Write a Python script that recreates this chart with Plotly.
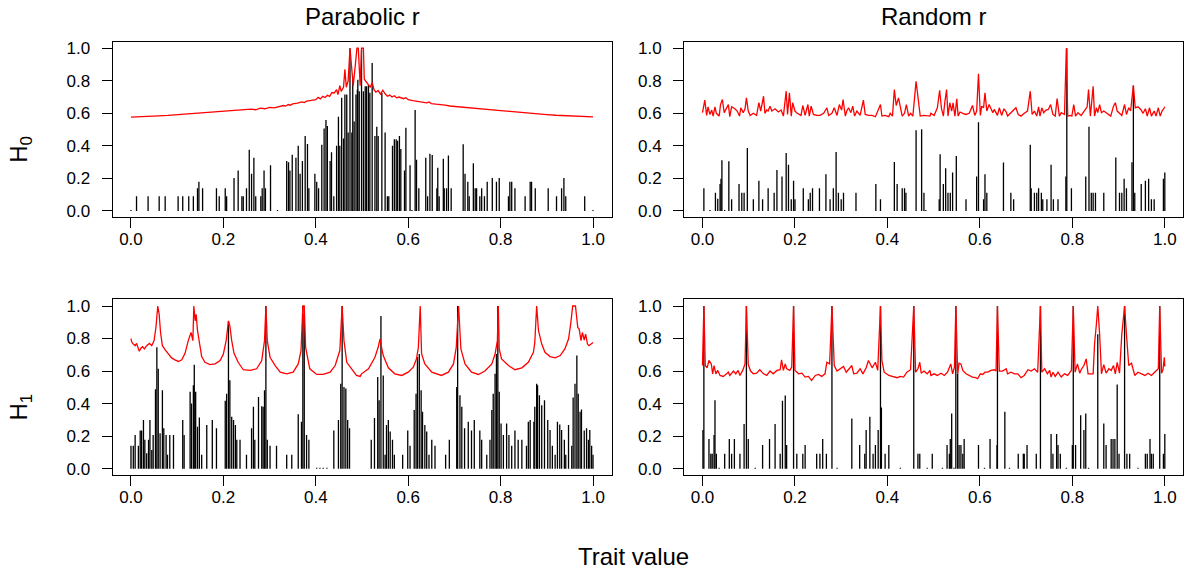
import plotly.graph_objects as go

# ---------------- data ----------------
# H0, parabolic r : red curve (x, value)
h0p_line = [(0.0,0.577),(0.02,0.578),(0.04,0.581),(0.06,0.584),(0.08,0.587),(0.10,0.591),(0.12,0.595),
            (0.14,0.599),(0.16,0.603),(0.18,0.606),(0.20,0.610),(0.22,0.615),(0.24,0.620),(0.26,0.626),
            (0.27,0.622),(0.28,0.632),(0.29,0.628),(0.30,0.636),(0.31,0.634),(0.32,0.643),(0.33,0.648),
            (0.335,0.644),(0.34,0.654),(0.345,0.650),(0.35,0.658),(0.36,0.662),(0.37,0.670),(0.375,0.666),
            (0.38,0.675),(0.39,0.679),(0.40,0.684),(0.405,0.698),(0.41,0.689),(0.415,0.704),(0.42,0.697),
            (0.425,0.711),(0.43,0.704),(0.435,0.728),(0.44,0.725),(0.445,0.745),(0.448,0.715),(0.452,0.770),
            (0.455,0.735),(0.46,0.760),(0.463,0.870),(0.466,0.760),(0.47,0.800),(0.474,1.0),(0.478,0.860),
            (0.481,0.770),(0.485,0.880),(0.489,1.0),(0.492,1.0),(0.494,0.850),(0.496,0.770),(0.499,1.0),
            (0.503,1.0),(0.505,0.810),(0.51,0.790),(0.515,0.770),(0.518,0.760),(0.522,0.790),(0.526,0.745),
            (0.53,0.730),(0.535,0.740),(0.54,0.718),(0.545,0.742),(0.55,0.720),(0.555,0.705),(0.56,0.712),
            (0.565,0.700),(0.57,0.708),(0.575,0.695),(0.58,0.700),(0.59,0.690),(0.595,0.696),(0.60,0.684),
            (0.61,0.678),(0.62,0.672),(0.63,0.668),(0.64,0.664),(0.645,0.670),(0.65,0.660),(0.66,0.656),
            (0.67,0.654),(0.68,0.650),(0.69,0.645),(0.70,0.642),(0.72,0.636),(0.74,0.632),(0.76,0.627),
            (0.78,0.622),(0.80,0.617),(0.82,0.612),(0.84,0.606),(0.86,0.600),(0.88,0.596),(0.90,0.592),
            (0.92,0.588),(0.94,0.585),(0.96,0.582),(0.98,0.580),(1.0,0.578)]
# H0, parabolic r : black spikes (x, height)
h0p_spikes = [(0.0,0.005),(0.012,0.09),(0.037,0.09),(0.061,0.09),(0.074,0.09),(0.102,0.09),(0.112,0.09),
              (0.125,0.09),(0.135,0.09),(0.144,0.14),(0.147,0.18),(0.155,0.14),(0.185,0.14),(0.191,0.09),
              (0.204,0.14),(0.207,0.09),(0.223,0.203),(0.232,0.248),(0.240,0.09),(0.243,0.09),(0.250,0.14),
              (0.256,0.376),(0.261,0.228),(0.266,0.327),(0.270,0.09),(0.281,0.09),(0.284,0.14),(0.288,0.248),
              (0.291,0.14),(0.302,0.28),(0.317,0.005),(0.337,0.307),(0.341,0.299),(0.344,0.248),(0.349,0.346),
              (0.357,0.327),(0.362,0.40),(0.366,0.228),(0.371,0.307),(0.377,0.461),(0.382,0.411),(0.385,0.14),
              (0.398,0.228),(0.402,0.18),(0.406,0.14),(0.413,0.407),(0.418,0.506),(0.422,0.559),(0.425,0.522),
              (0.431,0.307),(0.434,0.36),(0.439,0.09),(0.445,0.40),(0.449,0.579),(0.452,0.40),(0.456,0.695),
              (0.460,0.445),(0.463,0.715),(0.467,0.715),(0.470,0.482),(0.474,1.0),(0.478,0.482),(0.480,0.827),
              (0.483,0.549),(0.487,0.715),(0.490,0.746),(0.491,0.807),(0.494,0.736),(0.499,0.99),(0.503,0.736),
              (0.507,0.766),(0.510,0.766),(0.514,0.776),(0.517,0.726),(0.522,0.909),(0.528,0.461),(0.532,0.518),
              (0.535,0.461),(0.543,0.726),(0.550,0.482),(0.555,0.09),(0.558,0.09),(0.566,0.40),(0.570,0.441),
              (0.574,0.441),(0.577,0.431),(0.581,0.461),(0.584,0.380),(0.592,0.248),(0.595,0.512),(0.604,0.280),
              (0.608,0.005),(0.615,0.62),(0.618,0.315),(0.623,0.14),(0.638,0.327),(0.642,0.09),(0.647,0.352),
              (0.652,0.343),(0.662,0.14),(0.664,0.266),(0.667,0.09),(0.676,0.32),(0.678,0.14),(0.683,0.14),
              (0.687,0.34),(0.693,0.14),(0.719,0.41),(0.723,0.228),(0.729,0.18),(0.732,0.09),(0.741,0.293),
              (0.745,0.14),(0.748,0.14),(0.755,0.09),(0.759,0.14),(0.765,0.09),(0.771,0.18),(0.782,0.203),
              (0.791,0.18),(0.797,0.203),(0.817,0.09),(0.820,0.18),(0.824,0.18),(0.831,0.14),(0.853,0.09),
              (0.864,0.18),(0.867,0.18),(0.875,0.14),(0.903,0.14),(0.921,0.09),(0.932,0.14),(0.937,0.203),
              (0.941,0.09),(0.982,0.09),(1.0,0.005)]

# H0, random r : red curve
h0r_line = [(0.0,0.604),(0.005,0.681),(0.009,0.587),(0.012,0.640),(0.016,0.593),(0.020,0.620),(0.023,0.583),
            (0.027,0.640),(0.030,0.600),(0.036,0.583),(0.039,0.654),(0.043,0.685),(0.047,0.604),(0.052,0.634),
            (0.056,0.654),(0.059,0.579),(0.063,0.640),(0.070,0.628),(0.075,0.614),(0.080,0.583),(0.083,0.634),
            (0.088,0.604),(0.092,0.628),(0.095,0.695),(0.099,0.614),(0.103,0.587),(0.110,0.600),(0.117,0.587),
            (0.122,0.665),(0.126,0.614),(0.132,0.705),(0.135,0.600),(0.139,0.620),(0.142,0.614),(0.146,0.644),
            (0.150,0.614),(0.157,0.628),(0.164,0.608),(0.170,0.620),(0.175,0.583),(0.181,0.736),(0.184,0.593),
            (0.188,0.726),(0.192,0.583),(0.195,0.665),(0.200,0.614),(0.205,0.600),(0.213,0.587),(0.217,0.648),
            (0.222,0.587),(0.226,0.640),(0.228,0.654),(0.231,0.583),(0.235,0.644),(0.240,0.593),(0.247,0.587),
            (0.254,0.587),(0.262,0.600),(0.269,0.634),(0.273,0.587),(0.280,0.600),(0.285,0.634),(0.291,0.587),
            (0.296,0.654),(0.301,0.620),(0.304,0.685),(0.309,0.583),(0.312,0.614),(0.316,0.634),(0.321,0.604),
            (0.325,0.644),(0.329,0.583),(0.334,0.614),(0.341,0.587),(0.348,0.681),(0.352,0.593),(0.359,0.587),
            (0.367,0.587),(0.374,0.579),(0.381,0.624),(0.385,0.654),(0.388,0.583),(0.395,0.587),(0.403,0.579),
            (0.406,0.600),(0.411,0.583),(0.415,0.746),(0.419,0.648),(0.424,0.695),(0.432,0.583),(0.437,0.600),
            (0.441,0.654),(0.446,0.583),(0.450,0.600),(0.455,0.583),(0.462,0.797),(0.466,0.715),(0.471,0.583),
            (0.479,0.587),(0.486,0.587),(0.492,0.583),(0.494,0.600),(0.501,0.587),(0.508,0.634),(0.513,0.742),
            (0.517,0.628),(0.521,0.583),(0.524,0.665),(0.528,0.746),(0.531,0.583),(0.535,0.665),(0.539,0.614),
            (0.542,0.665),(0.546,0.583),(0.550,0.689),(0.553,0.583),(0.557,0.608),(0.563,0.600),(0.570,0.593),
            (0.577,0.600),(0.584,0.648),(0.589,0.587),(0.593,0.614),(0.597,0.843),(0.601,0.587),(0.604,0.644),
            (0.608,0.634),(0.611,0.726),(0.615,0.614),(0.620,0.654),(0.624,0.624),(0.628,0.604),(0.631,0.624),
            (0.635,0.600),(0.638,0.587),(0.642,0.634),(0.647,0.587),(0.652,0.628),(0.657,0.608),(0.660,0.583),
            (0.666,0.600),(0.673,0.614),(0.678,0.634),(0.683,0.593),(0.689,0.583),(0.696,0.600),(0.703,0.614),
            (0.709,0.736),(0.713,0.593),(0.718,0.614),(0.723,0.583),(0.727,0.640),(0.730,0.583),(0.734,0.634),
            (0.738,0.604),(0.743,0.620),(0.748,0.624),(0.753,0.654),(0.758,0.593),(0.763,0.583),(0.767,0.691),
            (0.772,0.583),(0.776,0.604),(0.783,0.593),(0.787,1.0),(0.790,0.583),(0.796,0.587),(0.799,0.583),
            (0.803,0.654),(0.807,0.583),(0.812,0.604),(0.819,0.587),(0.826,0.614),(0.832,0.640),(0.835,0.746),
            (0.839,0.583),(0.845,0.766),(0.848,0.583),(0.852,0.634),(0.855,0.604),(0.859,0.654),(0.863,0.604),
            (0.868,0.614),(0.876,0.600),(0.883,0.583),(0.889,0.644),(0.893,0.665),(0.897,0.614),(0.902,0.600),
            (0.907,0.587),(0.913,0.654),(0.917,0.593),(0.922,0.634),(0.926,0.614),(0.932,0.772),(0.936,0.634),
            (0.942,0.640),(0.948,0.624),(0.953,0.600),(0.958,0.628),(0.962,0.583),(0.967,0.634),(0.971,0.583),
            (0.977,0.614),(0.981,0.583),(0.986,0.634),(0.990,0.583),(0.994,0.614),(0.999,0.634),(1.0,0.640)]
# H0, random r : black spikes
h0r_spikes = [(0.003,0.14),(0.016,0.005),(0.028,0.112),(0.033,0.075),(0.038,0.165),(0.040,0.197),(0.042,0.311),
              (0.048,0.005),(0.057,0.305),(0.063,0.071),(0.079,0.165),(0.085,0.112),(0.090,0.112),(0.097,0.386),
              (0.110,0.071),(0.122,0.185),(0.130,0.071),(0.142,0.14),(0.155,0.112),(0.161,0.252),(0.172,0.211),
              (0.181,0.356),(0.186,0.283),(0.192,0.071),(0.197,0.185),(0.200,0.071),(0.218,0.14),(0.229,0.071),
              (0.233,0.112),(0.238,0.14),(0.253,0.14),(0.267,0.226),(0.276,0.071),(0.283,0.14),(0.289,0.362),
              (0.294,0.112),(0.300,0.071),(0.305,0.112),(0.332,0.112),(0.375,0.165),(0.385,0.071),(0.415,0.30),
              (0.421,0.165),(0.432,0.14),(0.437,0.14),(0.440,0.112),(0.462,0.496),(0.474,0.502),(0.479,0.112),
              (0.483,0.005),(0.512,0.071),(0.514,0.348),(0.521,0.165),(0.526,0.262),(0.531,0.112),(0.536,0.112),
              (0.541,0.236),(0.549,0.337),(0.570,0.071),(0.593,0.211),(0.597,0.545),(0.608,0.071),(0.611,0.226),
              (0.615,0.112),(0.651,0.297),(0.667,0.112),(0.673,0.071),(0.709,0.407),(0.711,0.14),(0.718,0.112),
              (0.723,0.112),(0.727,0.14),(0.733,0.112),(0.736,0.071),(0.745,0.071),(0.754,0.283),(0.759,0.071),
              (0.769,0.071),(0.786,0.211),(0.788,1.0),(0.798,0.14),(0.829,0.211),(0.836,0.518),(0.841,0.112),
              (0.845,0.112),(0.850,0.112),(0.868,0.112),(0.894,0.329),(0.902,0.112),(0.907,0.112),(0.912,0.197),
              (0.917,0.14),(0.929,0.299),(0.932,0.77),(0.935,0.112),(0.949,0.165),(0.958,0.185),(0.965,0.197),
              (0.971,0.071),(0.977,0.071),(0.997,0.197),(1.0,0.236)]

# H1, parabolic r : red curve
h1p_line = [(0.0,0.80),(0.0014,0.780),(0.005,0.766),(0.009,0.756),(0.012,0.770),(0.018,0.722),(0.022,0.742),
            (0.025,0.750),(0.029,0.736),(0.034,0.756),(0.040,0.770),(0.045,0.756),(0.050,0.787),(0.054,0.868),
            (0.058,1.0),(0.061,0.949),(0.064,0.837),(0.068,0.756),(0.074,0.730),(0.081,0.705),(0.088,0.681),
            (0.095,0.669),(0.103,0.659),(0.110,0.669),(0.117,0.709),(0.124,0.787),(0.130,0.837),(0.134,0.787),
            (0.136,1.0),(0.139,0.909),(0.141,0.949),(0.144,0.848),(0.148,0.766),(0.153,0.689),(0.160,0.654),
            (0.171,0.640),(0.182,0.644),(0.193,0.665),(0.200,0.705),(0.206,0.787),(0.211,0.909),(0.214,0.878),
            (0.218,0.787),(0.223,0.709),(0.232,0.654),(0.243,0.608),(0.258,0.604),(0.272,0.614),(0.283,0.665),
            (0.289,0.787),(0.292,1.0),(0.295,0.787),(0.301,0.685),(0.312,0.634),(0.323,0.593),(0.337,0.583),
            (0.351,0.593),(0.362,0.644),(0.368,0.726),(0.372,1.0),(0.375,1.0),(0.378,0.746),(0.387,0.614),
            (0.402,0.579),(0.416,0.579),(0.431,0.593),(0.442,0.634),(0.452,0.726),(0.457,1.0),(0.461,0.787),
            (0.467,0.654),(0.478,0.614),(0.488,0.573),(0.496,0.567),(0.499,0.583),(0.514,0.614),(0.528,0.685),
            (0.535,0.746),(0.539,0.797),(0.543,0.736),(0.546,0.695),(0.557,0.620),(0.571,0.583),(0.586,0.573),
            (0.600,0.593),(0.611,0.624),(0.618,0.675),(0.622,0.746),(0.626,1.0),(0.629,0.705),(0.636,0.644),
            (0.651,0.593),(0.672,0.573),(0.687,0.593),(0.698,0.644),(0.704,0.746),(0.709,1.0),(0.714,0.736),
            (0.723,0.644),(0.737,0.593),(0.752,0.579),(0.766,0.600),(0.781,0.644),(0.788,0.705),(0.793,0.787),
            (0.795,1.0),(0.797,0.736),(0.802,0.675),(0.817,0.634),(0.831,0.608),(0.846,0.620),(0.860,0.654),
            (0.871,0.715),(0.874,0.776),(0.878,1.0),(0.882,0.848),(0.889,0.766),(0.896,0.715),(0.907,0.689),
            (0.918,0.681),(0.929,0.695),(0.939,0.736),(0.947,0.797),(0.952,0.898),(0.956,1.0),(0.962,1.0),
            (0.967,0.868),(0.970,0.858),(0.974,0.787),(0.977,0.837),(0.981,0.791),(0.984,0.827),(0.988,0.766),
            (0.991,0.756),(0.996,0.770),(1.0,0.776)]
# H1, parabolic r : black spikes
h1p_spikes = [(0.0,0.14),(0.005,0.14),(0.009,0.207),(0.016,0.14),(0.020,0.234),(0.023,0.234),(0.027,0.299),
              (0.030,0.177),(0.034,0.095),(0.038,0.177),(0.041,0.299),(0.045,0.115),(0.048,0.207),(0.053,0.488),
              (0.056,0.746),(0.059,0.614),(0.063,0.217),(0.068,0.482),(0.071,0.248),(0.076,0.207),(0.079,0.085),
              (0.084,0.207),(0.092,0.207),(0.112,0.299),(0.115,0.207),(0.128,0.472),(0.131,0.40),(0.135,0.512),
              (0.137,0.638),(0.140,0.472),(0.144,0.258),(0.148,0.315),(0.153,0.085),(0.164,0.268),(0.176,0.299),
              (0.185,0.248),(0.204,0.417),(0.207,0.461),(0.211,0.904),(0.214,0.543),(0.218,0.319),(0.222,0.299),
              (0.226,0.268),(0.229,0.177),(0.236,0.177),(0.250,0.085),(0.261,0.248),(0.265,0.38),(0.268,0.177),
              (0.276,0.441),(0.283,0.384),(0.286,0.38),(0.289,0.482),(0.292,1.0),(0.295,0.177),(0.301,0.14),
              (0.315,0.14),(0.337,0.085),(0.348,0.085),(0.362,0.335),(0.369,0.289),(0.372,1.0),(0.375,0.95),
              (0.380,0.207),(0.385,0.177),(0.402,0.005),(0.409,0.005),(0.416,0.005),(0.424,0.005),(0.439,0.234),
              (0.449,0.299),(0.454,0.522),(0.457,1.0),(0.461,0.502),(0.465,0.492),(0.469,0.299),(0.473,0.248),
              (0.520,0.177),(0.527,0.311),(0.534,0.563),(0.537,0.421),(0.541,0.939),(0.546,0.573),(0.550,0.085),
              (0.553,0.268),(0.557,0.299),(0.561,0.228),(0.566,0.177),(0.570,0.085),(0.588,0.085),(0.599,0.234),
              (0.604,0.14),(0.613,0.36),(0.617,0.461),(0.620,0.685),(0.624,0.705),(0.628,0.482),(0.631,0.350),
              (0.636,0.268),(0.640,0.228),(0.645,0.085),(0.651,0.177),(0.658,0.14),(0.681,0.085),(0.689,0.177),
              (0.705,0.502),(0.707,1.0),(0.712,0.451),(0.716,0.38),(0.722,0.248),(0.730,0.289),(0.737,0.234),
              (0.743,0.299),(0.755,0.234),(0.759,0.177),(0.770,0.085),(0.777,0.177),(0.781,0.36),(0.784,0.461),
              (0.788,0.583),(0.791,0.705),(0.794,1.0),(0.797,0.472),(0.801,0.278),(0.806,0.207),(0.813,0.278),
              (0.818,0.207),(0.824,0.14),(0.831,0.234),(0.838,0.177),(0.846,0.177),(0.856,0.14),(0.860,0.289),
              (0.864,0.299),(0.872,0.289),(0.874,0.38),(0.878,0.522),(0.880,0.512),(0.884,0.451),(0.889,0.390),
              (0.895,0.421),(0.902,0.299),(0.907,0.238),(0.912,0.14),(0.918,0.085),(0.923,0.289),(0.928,0.272),
              (0.932,0.238),(0.938,0.177),(0.941,0.085),(0.947,0.268),(0.954,0.14),(0.957,0.437),(0.961,0.522),
              (0.965,0.695),(0.968,0.461),(0.972,0.350),(0.975,0.364),(0.981,0.234),(0.986,0.248),(0.990,0.177),
              (0.993,0.238),(0.997,0.14),(1.0,0.085)]

# H1, random r : red curve
h1r_line = [(0.0,0.634),(0.003,1.0),(0.006,0.634),(0.010,0.620),(0.014,0.665),(0.019,0.644),(0.022,0.583),
            (0.025,0.634),(0.029,0.583),(0.033,0.604),(0.038,0.573),(0.045,0.567),(0.052,0.583),(0.056,0.593),
            (0.059,0.573),(0.067,0.600),(0.072,0.583),(0.077,0.604),(0.081,0.573),(0.087,0.604),(0.092,0.644),
            (0.095,1.0),(0.099,0.640),(0.104,0.600),(0.110,0.583),(0.117,0.587),(0.124,0.608),(0.132,0.583),
            (0.139,0.573),(0.146,0.600),(0.153,0.583),(0.161,0.604),(0.168,0.608),(0.171,0.669),(0.175,0.604),
            (0.179,0.644),(0.182,0.614),(0.189,0.604),(0.193,0.624),(0.197,1.0),(0.200,0.604),(0.208,0.583),
            (0.215,0.587),(0.222,0.563),(0.229,0.567),(0.236,0.543),(0.244,0.573),(0.251,0.579),(0.258,0.567),
            (0.265,0.583),(0.269,0.654),(0.275,0.644),(0.280,1.0),(0.285,0.634),(0.291,0.600),(0.298,0.614),
            (0.305,0.628),(0.311,0.593),(0.318,0.614),(0.323,0.634),(0.327,0.583),(0.334,0.587),(0.341,0.614),
            (0.347,0.583),(0.354,0.620),(0.359,0.665),(0.367,0.620),(0.374,0.654),(0.379,0.604),(0.385,1.0),
            (0.388,0.665),(0.393,0.593),(0.403,0.573),(0.414,0.567),(0.421,0.559),(0.428,0.567),(0.435,0.563),
            (0.442,0.593),(0.450,0.608),(0.457,1.0),(0.461,0.593),(0.466,0.614),(0.470,0.654),(0.473,0.587),
            (0.479,0.600),(0.486,0.583),(0.492,0.604),(0.494,0.573),(0.501,0.583),(0.508,0.573),(0.516,0.587),
            (0.523,0.573),(0.530,0.593),(0.537,0.644),(0.541,0.583),(0.545,0.624),(0.548,1.0),(0.552,0.583),
            (0.555,0.648),(0.559,0.644),(0.563,0.604),(0.570,0.583),(0.577,0.573),(0.584,0.563),(0.591,0.559),
            (0.595,0.553),(0.601,0.583),(0.606,0.579),(0.611,0.593),(0.617,0.593),(0.624,0.604),(0.631,0.608),
            (0.635,0.600),(0.638,1.0),(0.642,0.600),(0.649,0.600),(0.657,0.614),(0.660,0.583),(0.667,0.593),
            (0.675,0.583),(0.682,0.583),(0.689,0.559),(0.696,0.573),(0.704,0.608),(0.711,0.600),(0.718,0.614),
            (0.725,0.593),(0.731,1.0),(0.734,0.593),(0.740,0.614),(0.746,0.583),(0.751,0.604),(0.754,0.563),
            (0.758,0.593),(0.763,0.567),(0.769,0.593),(0.776,0.563),(0.783,0.583),(0.790,0.573),(0.798,0.604),
            (0.802,1.0),(0.806,0.593),(0.811,0.644),(0.816,0.587),(0.819,0.608),(0.825,0.634),(0.830,0.675),
            (0.834,0.583),(0.845,0.583),(0.848,0.766),(0.852,0.888),(0.855,1.0),(0.859,0.827),(0.863,0.583),
            (0.868,0.640),(0.873,0.587),(0.879,0.614),(0.884,0.604),(0.889,0.634),(0.893,0.583),(0.897,0.654),
            (0.902,0.587),(0.907,0.827),(0.913,1.0),(0.917,0.827),(0.922,0.634),(0.928,0.648),(0.935,0.573),
            (0.942,0.593),(0.949,0.583),(0.957,0.573),(0.964,0.587),(0.971,0.573),(0.978,0.593),(0.986,0.614),
            (0.989,1.0),(0.993,0.587),(0.996,0.608),(0.999,0.685),(1.0,0.628)]
# H1, random r : black spikes
h1r_spikes = [(0.001,0.238),(0.003,1.0),(0.014,0.183),(0.018,0.091),(0.021,0.091),(0.025,0.207),(0.027,0.42),
              (0.030,0.091),(0.036,0.005),(0.048,0.091),(0.058,0.183),(0.063,0.091),(0.069,0.183),(0.081,0.091),
              (0.090,0.274),(0.095,1.0),(0.099,0.183),(0.114,0.005),(0.130,0.146),(0.145,0.183),(0.157,0.274),
              (0.168,0.091),(0.173,0.417),(0.179,0.45),(0.182,0.146),(0.197,1.0),(0.204,0.091),(0.217,0.091),
              (0.222,0.146),(0.247,0.091),(0.254,0.091),(0.260,0.183),(0.268,0.091),(0.280,1.0),(0.291,0.005),
              (0.323,0.309),(0.340,0.146),(0.351,0.091),(0.354,0.238),(0.362,0.319),(0.369,0.091),(0.374,0.146),
              (0.380,0.238),(0.385,1.0),(0.387,0.376),(0.395,0.091),(0.403,0.146),(0.428,0.005),(0.457,1.0),
              (0.466,0.091),(0.470,0.091),(0.486,0.005),(0.497,0.091),(0.519,0.005),(0.529,0.146),(0.534,0.091),
              (0.536,0.183),(0.539,0.339),(0.544,0.005),(0.548,1.0),(0.552,0.583),(0.555,0.146),(0.559,0.146),
              (0.563,0.091),(0.566,0.183),(0.597,0.146),(0.610,0.005),(0.622,0.183),(0.637,0.146),(0.638,1.0),
              (0.654,0.35),(0.664,0.005),(0.683,0.091),(0.694,0.091),(0.696,0.091),(0.702,0.146),(0.722,0.091),
              (0.731,1.0),(0.754,0.213),(0.758,0.091),(0.766,0.213),(0.769,0.146),(0.774,0.091),(0.787,0.005),
              (0.800,0.146),(0.802,1.0),(0.807,0.146),(0.818,0.329),(0.825,0.238),(0.829,0.339),(0.835,0.005),
              (0.855,0.827),(0.868,0.278),(0.873,0.146),(0.884,0.183),(0.888,0.183),(0.892,0.183),(0.897,0.518),
              (0.901,0.091),(0.913,1.0),(0.918,0.091),(0.924,0.091),(0.942,0.005),(0.958,0.091),(0.962,0.091),
              (0.968,0.183),(0.971,0.091),(0.975,0.091),(0.989,1.0),(0.997,0.091),(1.0,0.213)]

col_titles = ["Parabolic r", "Random r"]
row_titles = ["H<sub>0</sub>", "H<sub>1</sub>"]
x_title = "Trait value"
tick_vals = [0.0, 0.2, 0.4, 0.6, 0.8, 1.0]
tick_text = ["0.0", "0.2", "0.4", "0.6", "0.8", "1.0"]

# ---------------- layout helpers ----------------
W, H = 1185, 575
FONT = "Liberation Sans, Arial, Helvetica, sans-serif"
xdom = [(112.5 / W, 611.5 / W), (684.0 / W, 1183.3 / W)]
ydom = [(1 - 217.3 / H, 1 - 40.1 / H), (1 - 477.3 / H, 1 - 300.1 / H)]

panels = [(h0p_line, h0p_spikes, 0, 0), (h0r_line, h0r_spikes, 0, 1),
          (h1p_line, h1p_spikes, 1, 0), (h1r_line, h1r_spikes, 1, 1)]

fig = go.Figure()
layout = dict(width=W, height=H, margin=dict(l=0, r=0, t=0, b=0),
              paper_bgcolor="white", plot_bgcolor="white", showlegend=False,
              font=dict(family=FONT, color="black"))

for i, (line, spikes, r, c) in enumerate(panels):
    k = i + 1
    xa = "x" if k == 1 else f"x{k}"
    ya = "y" if k == 1 else f"y{k}"
    sx, sy = [], []
    for x, h in spikes:
        sx += [x, x, None]
        sy += [0, h, None]
    fig.add_trace(go.Scatter(x=sx, y=sy, mode="lines", xaxis=xa, yaxis=ya,
                             line=dict(color="black", width=1.3), hoverinfo="skip"))
    fig.add_trace(go.Scatter(x=[p[0] for p in line], y=[p[1] for p in line], mode="lines",
                             xaxis=xa, yaxis=ya, line=dict(color="#ff0000", width=1.3),
                             hoverinfo="skip"))
    axcommon = dict(showgrid=False, zeroline=False, showline=True, mirror=True,
                    linecolor="black", linewidth=1, ticks="outside", ticklen=10,
                    tickwidth=1, tickcolor="black", tickvals=tick_vals, ticktext=tick_text,
                    tickfont=dict(family=FONT, size=17, color="black"),
                    range=[-0.04, 1.04], fixedrange=True)
    layout["xaxis" if k == 1 else f"xaxis{k}"] = dict(
        axcommon, domain=list(xdom[c]), anchor=ya, ticklabelstandoff=-4)
    layout["yaxis" if k == 1 else f"yaxis{k}"] = dict(
        axcommon, domain=list(ydom[r]), anchor=xa, ticklabelstandoff=8)

ann = []
for c, t in enumerate(col_titles):
    ann.append(dict(text=t, xref="paper", yref="paper", x=(xdom[c][0] + xdom[c][1]) / 2,
                    y=1 - 15 / H, xanchor="center", yanchor="middle", showarrow=False,
                    font=dict(family=FONT, size=24, color="black")))
for r, t in enumerate(row_titles):
    yc = (ydom[r][0] + ydom[r][1]) / 2 - 20.4 / H
    ann.append(dict(text=t, xref="paper", yref="paper", x=21 / W, y=yc, textangle=-90,
                    xanchor="center", yanchor="middle", showarrow=False,
                    font=dict(family=FONT, size=24, color="black")))
ann.append(dict(text=x_title, xref="paper", yref="paper", x=633 / W, y=1 - 559 / H,
                xanchor="center", yanchor="middle", showarrow=False,
                font=dict(family=FONT, size=24, color="black")))
layout["annotations"] = ann

fig.update_layout(**layout)
fig.write_html("out.html", config={"displayModeBar": False},
               post_script="document.body.style.margin='0';document.body.style.overflow='hidden';")
